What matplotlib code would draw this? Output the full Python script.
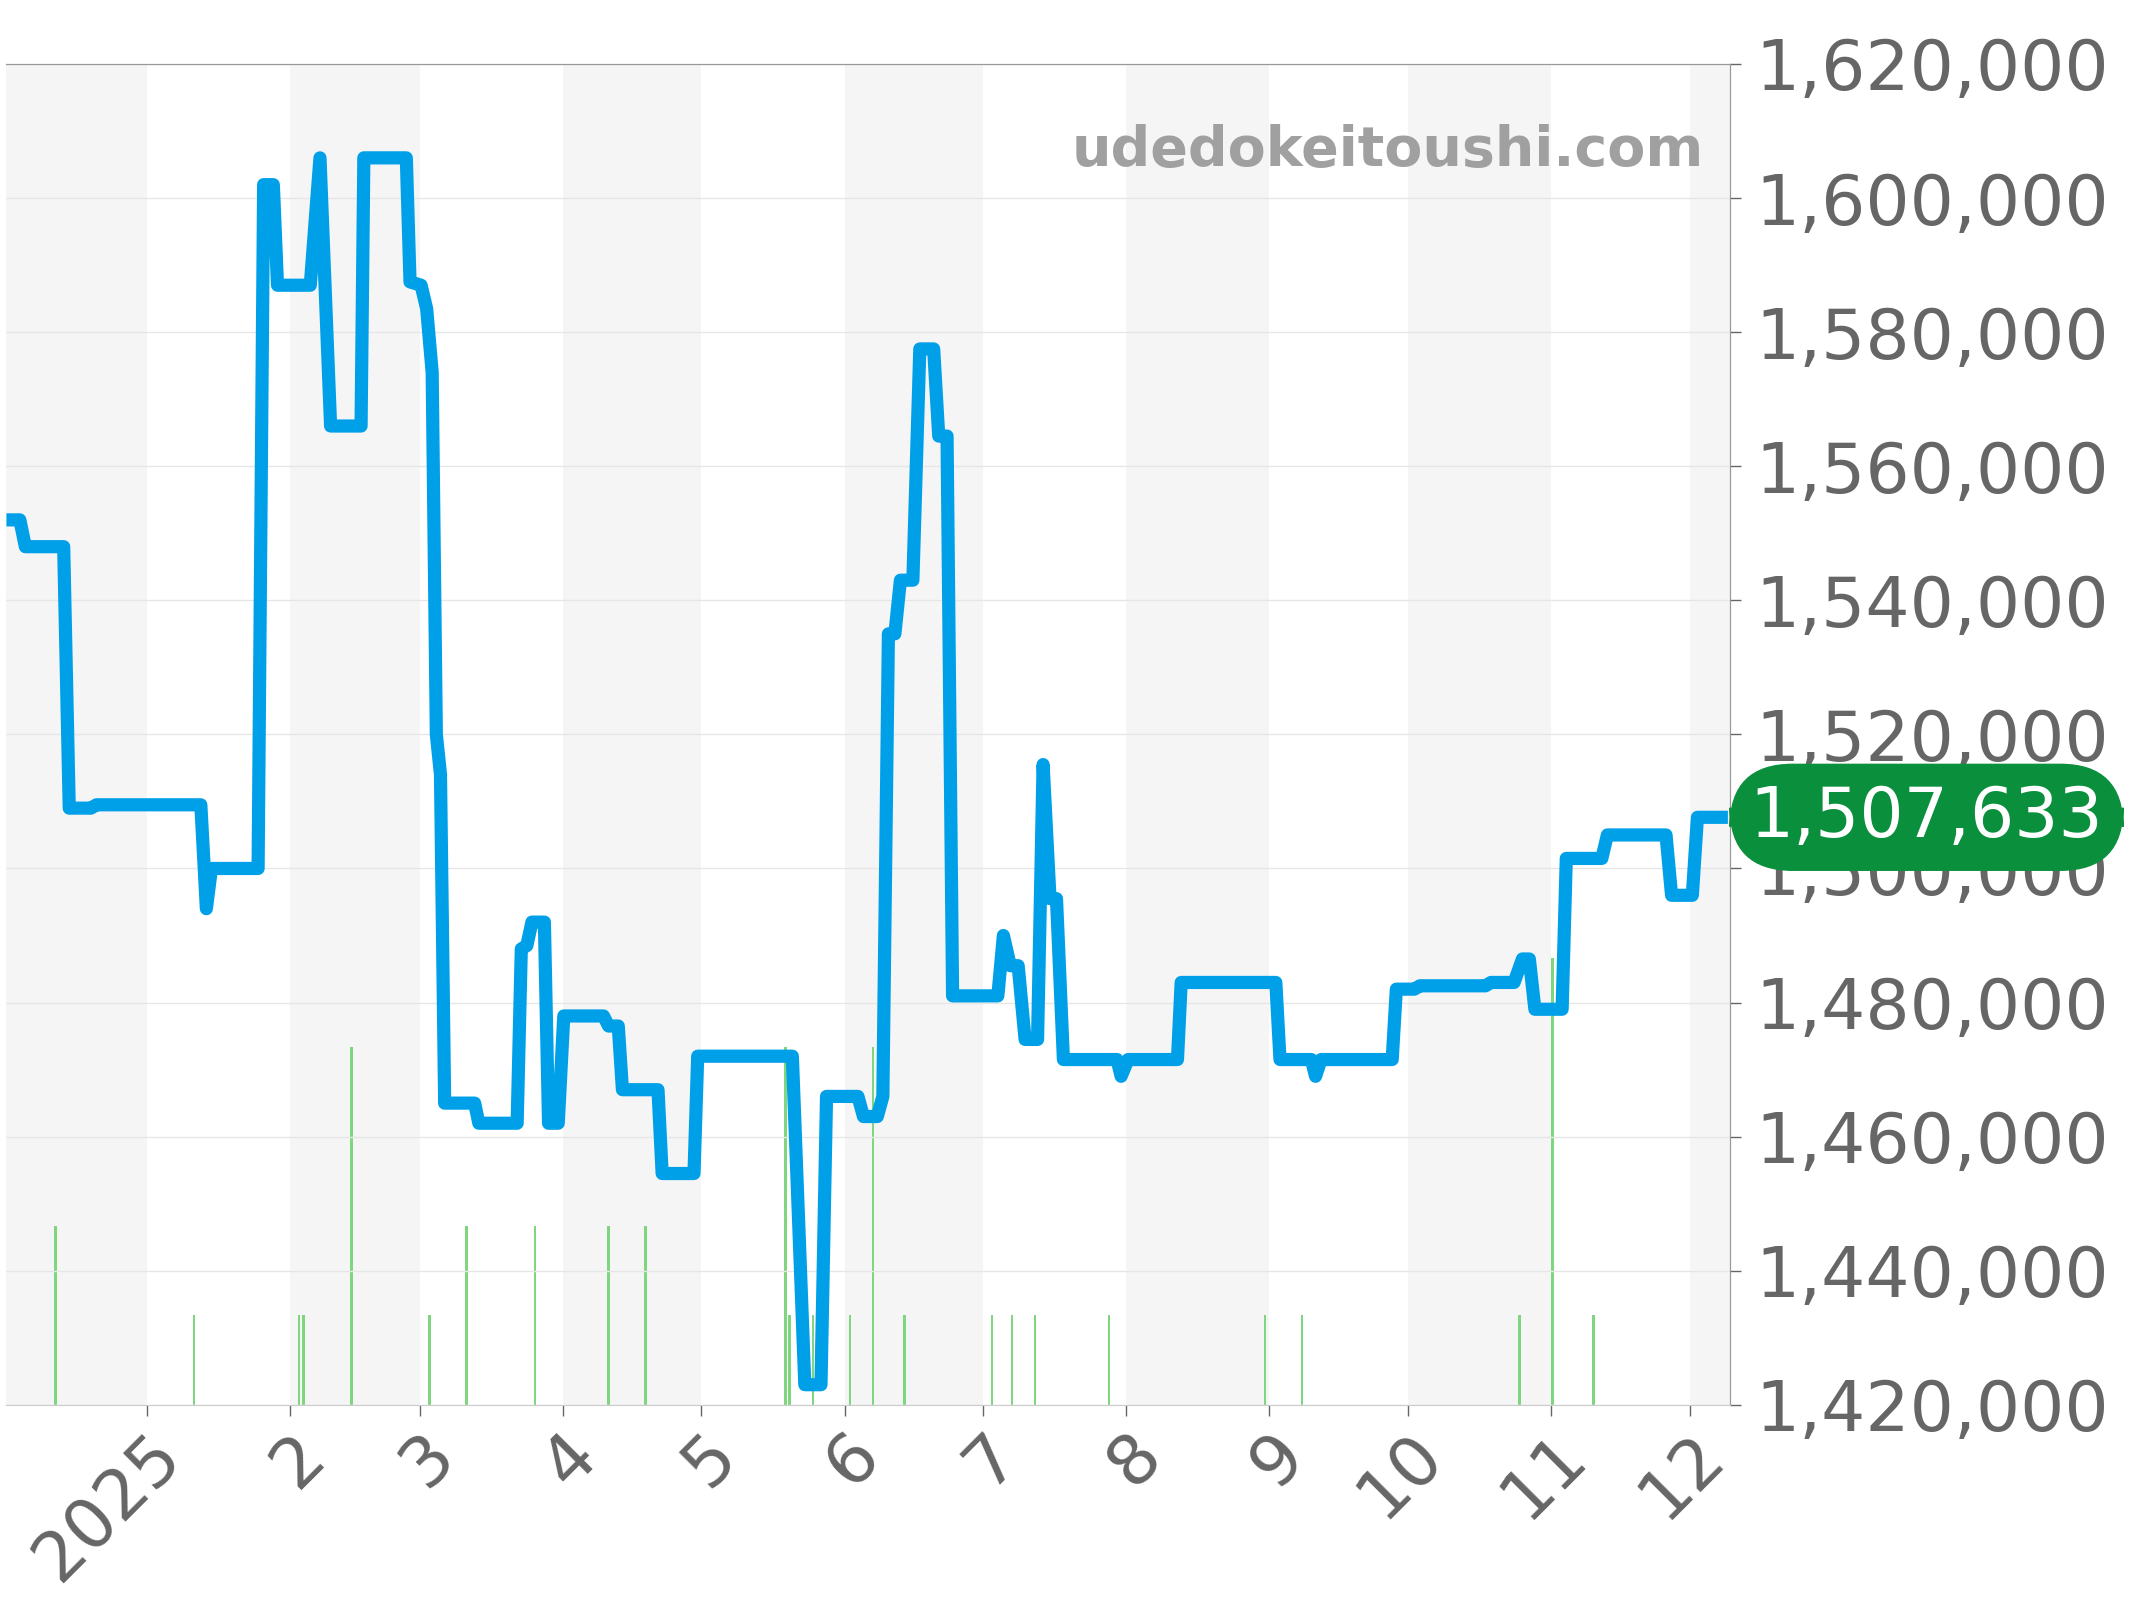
import matplotlib
matplotlib.use("Agg")
import matplotlib.pyplot as plt

# days since 2025-01-01
days = [-30.5,-27.6,-26.4,-18.1,-16.9,-12.2,-11.0,11.6,12.8,13.9,24.0,25.2,27.3,28.2,35.3,37.4,39.7,46.3,46.9,56.1,56.9,59.3,60.5,61.7,62.6,63.5,64.4,70.9,71.8,80.1,81.0,82.2,83.3,86.0,86.9,89.0,90.2,98.8,99.9,102.0,102.9,110.6,111.5,118.4,119.2,139.7,142.4,145.9,147.1,153.9,155.1,158.1,159.3,160.5,161.9,163.1,165.8,167.3,170.3,171.4,173.2,174.4,184.2,185.4,186.9,188.6,190.1,192.8,194.0,195.5,196.9,198.4,210.0,210.9,212.4,223.1,223.9,244.4,245.3,252.1,253.0,254.2,269.6,270.5,274.4,275.6,289.8,291.0,296.0,297.8,299.3,300.5,306.4,307.3,315.0,316.2,328.9,330.1,334.6,335.7,342.3]
prices = [1552000,1552000,1548000,1548000,1509000,1509000,1509500,1509500,1494000,1500000,1500000,1602000,1602000,1587000,1587000,1606000,1566000,1566000,1606000,1606000,1587500,1587000,1583500,1574000,1520000,1514000,1465000,1465000,1462000,1462000,1488000,1488500,1492000,1492000,1462000,1462000,1478000,1478000,1476500,1476500,1467000,1467000,1454500,1454500,1472000,1472000,1423000,1423000,1466000,1466000,1463000,1463000,1466000,1535000,1535000,1543000,1543000,1577500,1577500,1564500,1564500,1481000,1481000,1490000,1485500,1485500,1474500,1474500,1515500,1495500,1495500,1471500,1471500,1469000,1471500,1471500,1483000,1483000,1471500,1471500,1469000,1471500,1471500,1482000,1482000,1482500,1482500,1483000,1483000,1486500,1486500,1479000,1479000,1501500,1501500,1505000,1505000,1496000,1496000,1507633,1507633]

vol_days = [-19.9,10.1,32.9,33.8,44.2,61.1,69.1,83.9,99.9,107.9,138.2,139.1,144.2,152.2,157.2,164.0,183.0,187.2,192.2,208.2,242.1,250.1,297.2,304.3,313.2]
vol = [2,1,1,1,4,1,2,2,2,2,4,1,1,1,4,1,1,1,1,1,1,1,1,5,1]

month_starts = [-31,0,31,59,90,120,151,181,212,243,273,304,334,365]
month_labels = ["2025","2","3","4","5","6","7","8","9","10","11","12"]
yticks = list(range(1420000, 1620001, 20000))
last_price = 1507633

fig = plt.figure(figsize=(21.44,16), dpi=100)
ax = fig.add_axes([0.003,0.122,0.804,0.838])
ax2 = ax.twinx()
ax.set_zorder(ax2.get_zorder()+1); ax.patch.set_visible(False)

xmin, xmax = -30.5, 342.8
for i in range(len(month_starts)-1):
    if i % 2 == 0:
        ax2.axvspan(max(month_starts[i],xmin), min(month_starts[i+1],xmax), color="#f5f5f5", zorder=0, lw=0)

ax2.bar(vol_days, vol, width=0.5, color="#7fd67f", zorder=1)
ax2.set_ylim(0,15); ax2.set_yticks([])

ax.plot(days, prices, color="#00a0e9", lw=9.5, solid_joinstyle="round", solid_capstyle="butt", zorder=3)
ax.set_xlim(xmin, xmax)
ax.set_ylim(1420000,1620000)
ax.yaxis.tick_right()
ax.set_yticks(yticks)
ax.set_yticklabels([f"{v:,}" for v in yticks])
ax.grid(axis="y", color="#e6e6e6", lw=1)
ax.set_xticks(month_starts[1:13])
ax.set_xticklabels(month_labels, rotation=45, ha="right", rotation_mode="anchor")
ax.tick_params(axis="both", labelsize=50, colors="#666666", length=8, width=1)
ax.tick_params(axis="y", pad=10)
for s in ["left","bottom"]:
    ax.spines[s].set_visible(False); ax2.spines[s].set_visible(False)
for a in (ax, ax2):
    a.spines["top"].set_color("#999999")
    a.spines["right"].set_color("#999999")
ax.spines["bottom"].set_visible(True); ax.spines["bottom"].set_color("#cccccc")

ax.text(0.985, 0.935, "udedokeitoushi.com", transform=ax.transAxes, ha="right", va="center",
        fontsize=40, fontweight="bold", color="#a0a0a0")

ax.annotate(f"{last_price:,}", xy=(1.0, last_price), xycoords=("axes fraction","data"),
            xytext=(14,0), textcoords="offset points", ha="left", va="center",
            fontsize=50, color="white", zorder=10, annotation_clip=False,
            bbox=dict(boxstyle="round,pad=0.28,rounding_size=0.9", fc="#0a8f3c", ec="#0a8f3c"))

fig.savefig("out.png", dpi=100)
